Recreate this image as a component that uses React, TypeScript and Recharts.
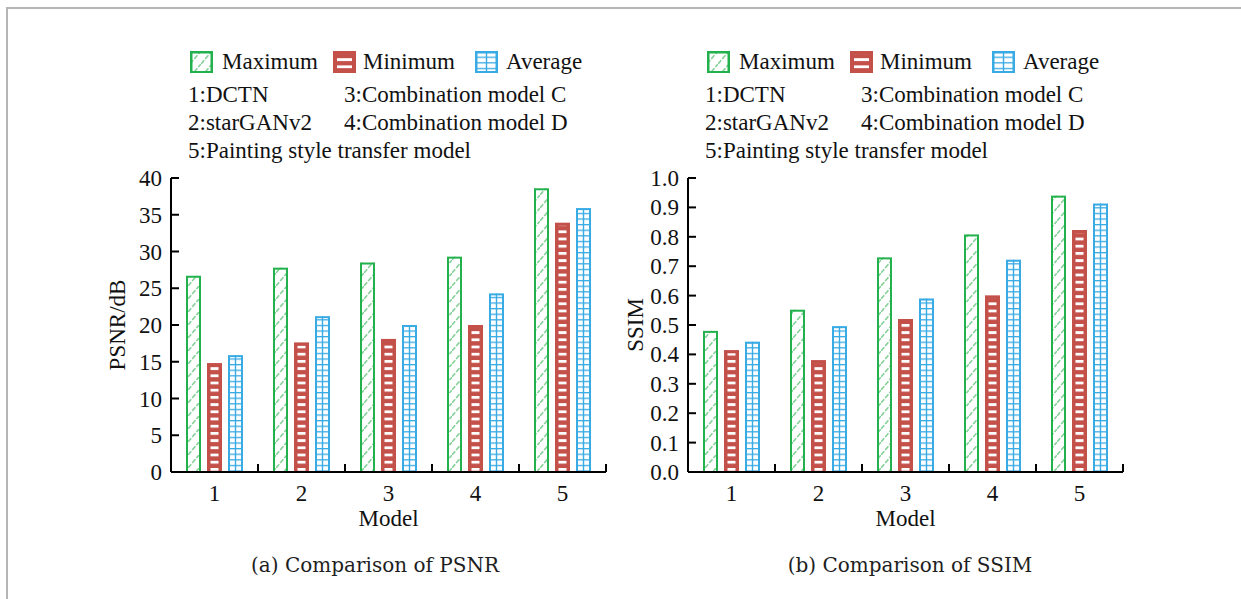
import React from "react";
import { Bar, BarChart, XAxis, YAxis } from "recharts";

const categories = ["1", "2", "3", "4", "5"];
const psnrMax = [26.7, 27.8, 28.5, 29.3, 38.6];
const psnrMin = [14.8, 17.6, 18.1, 20.0, 33.9];
const psnrAvg = [15.9, 21.2, 20.0, 24.3, 35.9];
const ssimMax = [0.48, 0.552, 0.73, 0.808, 0.94];
const ssimMin = [0.414, 0.38, 0.52, 0.6, 0.823];
const ssimAvg = [0.443, 0.496, 0.59, 0.722, 0.913];
const psnrTicks = [0, 5, 10, 15, 20, 25, 30, 35, 40];
const ssimTicks = [0, 0.1, 0.2, 0.3, 0.4, 0.5, 0.6, 0.7, 0.8, 0.9, 1.0];
const seriesNames = ["Maximum", "Minimum", "Average"];
const modelNames = [
  "1:DCTN",
  "2:starGANv2",
  "3:Combination model C",
  "4:Combination model D",
  "5:Painting style transfer model",
];

const GREEN = "#22b14c";
const RED = "#c4504a";
const BLUE = "#38aae4";
const FONT = "'Liberation Serif', 'Times New Roman', serif";
const PLOT_W = 435;
const BAND = PLOT_W / categories.length;

const psnrData = categories.map((name, i) => ({ name, max: psnrMax[i], min: psnrMin[i], avg: psnrAvg[i] }));
const ssimData = categories.map((name, i) => ({ name, max: ssimMax[i], min: ssimMin[i], avg: ssimAvg[i] }));

function Patterns() {
  return (
    <svg width={0} height={0} style={{ position: "absolute" }}>
      <defs>
        <pattern id="greenDiag" patternUnits="userSpaceOnUse" width={11} height={13}>
          <line x1={0} y1={13} x2={11} y2={0} stroke="#84d197" strokeWidth={1.6} strokeDasharray="5 1.5" />
        </pattern>
        <pattern id="redStripes" patternUnits="userSpaceOnUse" width={10} height={7.2}>
          <rect x={0} y={0} width={10} height={2.8} fill="#fff" />
        </pattern>
        <pattern id="blueLines" patternUnits="userSpaceOnUse" width={10} height={5.6}>
          <rect x={0} y={0} width={10} height={1.3} fill={BLUE} />
        </pattern>
      </defs>
    </svg>
  );
}

function GreenShape(props: any) {
  const { x, y, width, height } = props;
  if (!height || height <= 0) return null;
  return (
    <g>
      <rect x={x} y={y} width={width} height={height} fill="#fff" />
      <rect x={x} y={y} width={width} height={height} fill="url(#greenDiag)" />
      <rect x={x + 1} y={y + 1} width={width - 2} height={height - 1} fill="none" stroke={GREEN} strokeWidth={2} />
    </g>
  );
}

function RedShape(props: any) {
  const { x, y, width, height } = props;
  if (!height || height <= 0) return null;
  return (
    <g>
      <rect x={x} y={y} width={width} height={height} fill={RED} />
      <rect x={x + 3.5} y={y + 3} width={width - 7} height={height - 3} fill="url(#redStripes)" />
      <rect x={x + 1} y={y + 1} width={width - 2} height={height - 1} fill="none" stroke={RED} strokeWidth={2} />
    </g>
  );
}

function BlueShape(props: any) {
  const { x, y, width, height } = props;
  if (!height || height <= 0) return null;
  return (
    <g>
      <rect x={x} y={y} width={width} height={height} fill="#fff" />
      <rect x={x} y={y} width={width} height={height} fill="url(#blueLines)" />
      <line x1={x + width / 2} y1={y} x2={x + width / 2} y2={y + height} stroke={BLUE} strokeWidth={1.4} />
      <rect x={x + 1} y={y + 1} width={width - 2} height={height - 1} fill="none" stroke={BLUE} strokeWidth={2} />
    </g>
  );
}

function YTick(props: any) {
  const { x, y, payload, fmt } = props;
  return (
    <g>
      <line x1={x + 9} y1={y} x2={x + 17} y2={y} stroke="#000" strokeWidth={2} />
      <text x={x} y={y} dy={8} textAnchor="end" fontFamily={FONT} fontSize={23} fill="#111">
        {fmt(payload.value)}
      </text>
    </g>
  );
}

function XTick(props: any) {
  const { x, y, payload, index } = props;
  const left = x - BAND / 2;
  const right = x + BAND / 2;
  return (
    <g>
      {index > 0 && <line x1={left} y1={y} x2={left} y2={y - 8} stroke="#000" strokeWidth={2} />}
      {index === categories.length - 1 && <line x1={right} y1={y} x2={right} y2={y - 8} stroke="#000" strokeWidth={2} />}
      <text x={x} y={y + 29} textAnchor="middle" fontFamily={FONT} fontSize={23} fill="#111">
        {payload.value}
      </text>
    </g>
  );
}

function Legend({ plotLeft }: { plotLeft: number }) {
  const txt: React.CSSProperties = {
    position: "absolute",
    fontFamily: FONT,
    fontSize: 23,
    lineHeight: "23px",
    whiteSpace: "nowrap",
    color: "#111",
  };
  const shapes = [GreenShape, RedShape, BlueShape];
  const swatchX = [19, 162, 304];
  const textX = [51, 192, 335];
  return (
    <>
      {seriesNames.map((s, i) => {
        const Shape = shapes[i];
        return (
          <React.Fragment key={s}>
            <svg style={{ position: "absolute", left: plotLeft + swatchX[i], top: 51 }} width={23} height={22}>
              <Shape x={0.5} y={0.5} width={22} height={21} />
              <rect x={1} y={1} width={21} height={20} fill="none" stroke={[GREEN, RED, BLUE][i]} strokeWidth={2} />
            </svg>
            <span style={{ ...txt, left: plotLeft + textX[i], top: 50 }}>{s}</span>
          </React.Fragment>
        );
      })}
      <span style={{ ...txt, left: plotLeft + 17, top: 83 }}>{modelNames[0]}</span>
      <span style={{ ...txt, left: plotLeft + 173, top: 83 }}>{modelNames[2]}</span>
      <span style={{ ...txt, left: plotLeft + 17, top: 111 }}>{modelNames[1]}</span>
      <span style={{ ...txt, left: plotLeft + 173, top: 111 }}>{modelNames[3]}</span>
      <span style={{ ...txt, left: plotLeft + 17, top: 139 }}>{modelNames[4]}</span>
    </>
  );
}

function Panel(props: {
  left: number;
  data: any[];
  ticks: number[];
  max: number;
  yLabel: string;
  labelOffset: number;
  fmt: (v: number) => string;
}) {
  const { left, data, ticks, max, yLabel, labelOffset, fmt } = props;
  return (
    <div style={{ position: "absolute", left, top: 0 }}>
      <BarChart
        width={520}
        height={545}
        data={data}
        margin={{ top: 178, right: 14, left: 0, bottom: 13 }}
        barSize={15}
        barGap={6}
      >
        <XAxis
          dataKey="name"
          interval={0}
          tickLine={false}
          tickSize={0}
          tickMargin={0}
          height={60}
          axisLine={{ stroke: "#000", strokeWidth: 2 }}
          tick={(p: any) => <XTick {...p} />}
          label={{ value: "Model", position: "insideBottom", offset: 6, fontFamily: FONT, fontSize: 23, fill: "#111" }}
        />
        <YAxis
          type="number"
          domain={[0, max]}
          ticks={ticks}
          interval={0}
          width={71}
          tickLine={false}
          tickSize={0}
          tickMargin={9}
          axisLine={{ stroke: "#000", strokeWidth: 2 }}
          tick={(p: any) => <YTick {...p} fmt={fmt} />}
          label={{
            value: yLabel,
            angle: -90,
            position: "insideLeft",
            offset: labelOffset,
            fontFamily: FONT,
            fontSize: 23,
            fill: "#111",
            style: { textAnchor: "middle" },
          }}
        />
        <Bar dataKey="max" shape={(p: any) => <GreenShape {...p} />} isAnimationActive={false} />
        <Bar dataKey="min" shape={(p: any) => <RedShape {...p} />} isAnimationActive={false} />
        <Bar dataKey="avg" shape={(p: any) => <BlueShape {...p} />} isAnimationActive={false} />
      </BarChart>
    </div>
  );
}

export default function App() {
  const caption: React.CSSProperties = {
    position: "absolute",
    top: 552,
    width: 400,
    textAlign: "center",
    fontFamily: "'DejaVu Serif', serif",
    fontSize: 20,
    lineHeight: "26px",
    color: "#1e1e1e",
  };
  return (
    <div style={{ position: "absolute", left: 0, top: 0, width: 1241, height: 599, background: "#fff", overflow: "hidden" }}>
      <Patterns />
      <div style={{ position: "absolute", left: 6, top: 7, right: -4, bottom: -4, borderTop: "2px solid #b5b5b5", borderLeft: "2px solid #b5b5b5" }} />
      <Legend plotLeft={171} />
      <Legend plotLeft={688} />
      <Panel left={100} data={psnrData} ticks={psnrTicks} max={40} yLabel="PSNR/dB" labelOffset={17} fmt={(v) => String(v)} />
      <Panel left={617} data={ssimData} ticks={ssimTicks} max={1} yLabel="SSIM" labelOffset={18} fmt={(v) => v.toFixed(1)} />
      <div style={{ ...caption, left: 175 }}>(a) Comparison of PSNR</div>
      <div style={{ ...caption, left: 710 }}>(b) Comparison of SSIM</div>
    </div>
  );
}
